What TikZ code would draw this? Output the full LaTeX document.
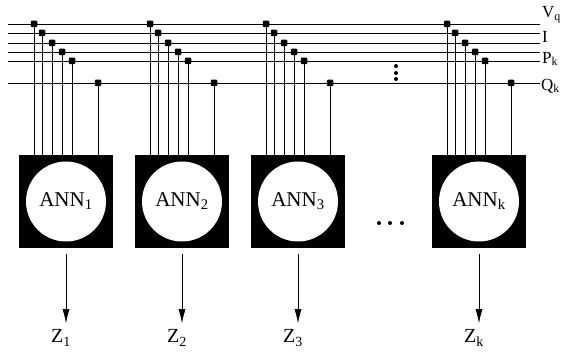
\documentclass[tikz,border=0pt]{standalone}
\usepackage{fontspec}
\setmainfont{Liberation Serif}
\usetikzlibrary{arrows.meta}
\tikzset{
  bus/.style={line width=0.6pt},
  tap/.style={fill=black, minimum size=6.5pt, inner sep=0pt, rounded corners=1pt},
  annbox/.style={fill=black, minimum width=94pt, minimum height=93pt, inner sep=0pt},
  anncore/.style={circle, fill=white, minimum size=80pt, inner sep=0pt, font=\fontsize{21}{24}\selectfont},
  outarrow/.style={line width=0.6pt, -{Latex[length=14pt,width=7pt]}},
  buslabel/.style={anchor=west, inner sep=0pt, font=\fontsize{17}{19}\selectfont},
  outlabel/.style={inner sep=0pt, font=\fontsize{20}{22}\selectfont},
  gapdot/.style={circle, fill=black, minimum size=4pt, inner sep=0pt}
}
\begin{document}
\begin{tikzpicture}[x=1pt,y=-1pt]
\useasboundingbox (0,0) rectangle (562,352);
\foreach \y [count=\i] in {24,33,43,52,61,83}
  \draw[bus] (8,\y) coordinate (bl\i) -- (540,\y) coordinate (br\i);
\node[buslabel] (vq) at (542,15) {V\textsubscript{q}};
\node[buslabel] (ii) at (542,37) {I};
\node[buslabel] (pk) at (542,59) {P\textsubscript{k}};
\node[buslabel] (qk) at (541,86) {Q\textsubscript{k}};
\foreach \xl/\s [count=\k] in {19/1,135/2,251/3,432/k}{
  \node[annbox] (box\k) at (\xl+47,201.5) {};
  \node[anncore] (ann\k) at (box\k) {ANN\textsubscript{\s}};
  \foreach \dx/\y [count=\j] in {15/24,23/33,33/43,43/52,53/61,79/83}{
    \node[tap] (t\k\j) at (\xl+\dx,\y) {};
    \draw[bus] (t\k\j.center) -- (t\k\j.center |- box\k.north);
  }
  \node[outlabel] (z\k) at (\xl+42,338) {Z\textsubscript{\s}};
  \draw[outarrow] ([yshift=-6pt]box\k.south) -- ([yshift=-75pt]box\k.south);
}
\foreach \y [count=\i] in {66,73,79}
  \node[gapdot] (vd\i) at (396,\y) {};
\foreach \x [count=\i] in {379,390,402}
  \node[gapdot] (hd\i) at (\x,223) {};
\end{tikzpicture}
\end{document}
